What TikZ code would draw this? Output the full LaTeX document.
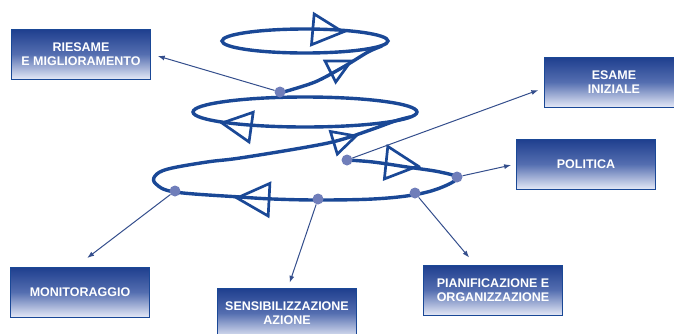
\documentclass[tikz,border=0pt]{standalone}
\usepackage{fontspec}
\setsansfont{Liberation Sans}
\usetikzlibrary{calc, arrows.meta}

\definecolor{spirale}{RGB}{26,72,150}
\definecolor{punkt}{RGB}{112,126,186}
\definecolor{pfeil}{RGB}{52,78,140}
\definecolor{kastenoben}{RGB}{30,62,142}
\definecolor{kastenmitte}{RGB}{84,110,176}
\definecolor{kastenunten}{RGB}{228,232,246}

\tikzset{
  spire/.style={draw=spirale, line width=3.4pt},
  tri/.style={draw=spirale, line width=2.7pt, line join=miter},
  punktnode/.style={circle, fill=punkt, inner sep=0pt, minimum size=11pt},
  kasten/.style={draw=spirale, line width=1pt, top color=kastenoben, bottom color=kastenunten, middle color=kastenmitte,
    text=white, font=\sffamily\bfseries\fontsize{12.5}{14}\selectfont, align=center,
    minimum width=139pt, minimum height=50pt, inner sep=0pt},
  verb/.style={draw=pfeil, line width=1pt, -{Latex[length=7pt,width=5pt]}},
}

% offenes Dreieck: Spitze, Richtung, Kantenlaenge
\newcommand{\opentri}[3]{\draw[tri] (#1) -- ($(#1)+(#2+153:#3)$) -- ($(#1)+(#2+207:#3)$) -- cycle;}

\begin{document}
\begin{tikzpicture}[x=1pt, y=-1pt]
        \useasboundingbox (0,0) rectangle (674,333);

        %Spirale
        \draw[spire] plot[smooth, tension=0.6] coordinates {(347,160) (373,162) (407,167) (440,172) (457,178) (440,188) (413,195) (373,199) (318,200) (273,199) (240,197) (175,192) (156,184) (155,176) (168,169) (207,162) (240,158) (307,147) (340,140) (373,129) (395,121) (410,117)};
        \draw[spire] (305,112) ellipse [x radius=112, y radius=15];          %mittlere Schleife
        \draw[spire] plot[smooth] coordinates {(280,93) (315,82) (345,66) (368,52) (382,46)};
        \draw[spire] (305,41) ellipse [x radius=83, y radius=12];            %obere Schleife

        %Pfeilspitzen
        \opentri{343,32}{5}{34}
        \opentri{351,61}{-27}{26}
        \opentri{222,123}{188}{33}
        \opentri{356,136}{-17}{26}
        \opentri{418,166}{6}{36}
        \opentri{237,198}{183}{36}

        %Punkte
        \node[punktnode] (pRiesame) at (280,92) {};
        \node[punktnode] (pEsame) at (347,160) {};
        \node[punktnode] (pPolitica) at (457,177) {};
        \node[punktnode] (pPianif) at (415,193) {};
        \node[punktnode] (pSensib) at (318,199) {};
        \node[punktnode] (pMonit) at (175,191) {};

        %Kaesten
        \node[kasten] (riesame) at (81,54) {RIESAME\\E MIGLIORAMENTO};
        \node[kasten] (esame) at (614,82) {ESAME\\INIZIALE};
        \node[kasten] (politica) at (586,164) {POLITICA};
        \node[kasten] (monit) at (80,292) {MONITORAGGIO};
        \node[kasten] (sensib) at (287,313) {SENSIBILIZZAZIONE\\AZIONE};
        \node[kasten] (pianif) at (493,290) {PIANIFICAZIONE E\\ORGANIZZAZIONE};

        %Pfeile
        \draw[verb, shorten >=7pt] (pRiesame) -- (riesame.east);
        \draw[verb, shorten >=6pt] (pEsame) -- ([yshift=-6pt]esame.west);
        \draw[verb, shorten >=5pt] (pPolitica) -- (politica.west);
        \draw[verb, shorten >=14pt] (pMonit) -- ([xshift=-4pt]monit.north);
        \draw[verb, shorten >=5pt] (pSensib) -- ([xshift=1pt]sensib.north);
        \draw[verb, shorten >=9pt] (pPianif) -- ([xshift=-18pt]pianif.north);
    \end{tikzpicture}
\end{document}
